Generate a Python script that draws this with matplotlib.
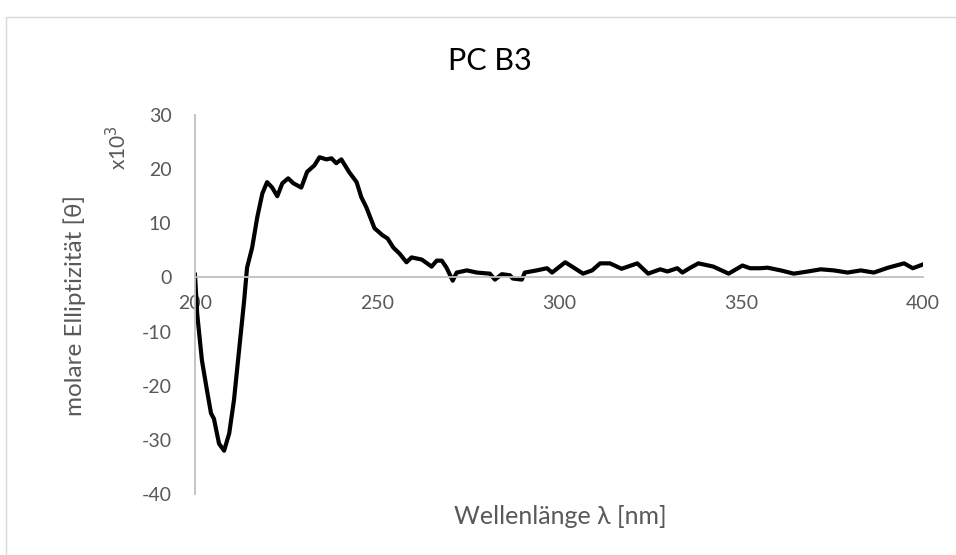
import matplotlib
matplotlib.use("Agg")
import matplotlib.pyplot as plt
from matplotlib.patches import Rectangle

plt.rcParams['font.family'] = ['Lato', 'DejaVu Sans']

wavelength = [200.0, 200.6, 201.9, 203.3, 204.4, 205.2, 206.6, 208.0, 209.4, 210.7,
              212.1, 213.5, 214.3, 215.7, 217.1, 218.5, 219.8, 221.2, 222.6, 224.0,
              225.6, 227.0, 229.2, 230.8, 232.8, 234.2, 236.1, 237.5, 238.8, 240.2,
              242.4, 244.4, 245.7, 247.1, 249.3, 251.5, 252.9, 254.5, 256.2, 258.1,
              259.5, 262.3, 265.0, 266.4, 267.8, 269.1, 270.8, 271.9, 274.7, 277.4,
              281.0, 282.4, 284.3, 286.5, 287.3, 289.8, 290.6, 293.9, 296.7, 298.1,
              301.7, 303.6, 306.6, 309.1, 311.3, 314.0, 317.2, 321.5, 324.5, 327.8,
              329.8, 332.5, 333.9, 336.1, 338.3, 342.4, 346.6, 350.4, 352.5, 355.3,
              357.3, 360.9, 364.5, 368.4, 371.9, 375.5, 379.3, 382.9, 386.5, 390.4,
              394.8, 397.2, 400.0]
ellipticity = [0.5, -6.7, -15.3, -20.9, -25.1, -26.1, -30.7, -32.0, -28.8, -22.7,
               -13.5, -4.3, 1.8, 5.5, 11.1, 15.5, 17.6, 16.6, 15.0, 17.4,
               18.3, 17.4, 16.6, 19.5, 20.7, 22.2, 21.8, 22.0, 21.1, 21.8,
               19.4, 17.6, 14.8, 12.9, 9.1, 7.8, 7.2, 5.5, 4.4, 2.8,
               3.7, 3.3, 2.0, 3.1, 3.1, 1.8, -0.6, 0.9, 1.3, 0.9,
               0.7, -0.4, 0.6, 0.4, -0.2, -0.4, 0.9, 1.3, 1.7, 0.9,
               2.8, 2.0, 0.7, 1.3, 2.6, 2.6, 1.6, 2.6, 0.7, 1.5,
               1.1, 1.7, 0.9, 1.8, 2.6, 2.0, 0.7, 2.2, 1.7, 1.7,
               1.8, 1.3, 0.7, 1.1, 1.5, 1.3, 0.9, 1.3, 0.9, 1.8,
               2.6, 1.7, 2.4]

x_ticks = [200, 250, 300, 350, 400]
y_ticks = [-40, -30, -20, -10, 0, 10, 20, 30]

W, H = 956, 555
fig = plt.figure(figsize=(W / 100, H / 100), dpi=100)

# chart border
fig.patches.append(Rectangle((5.5 / W, -0.1), 1.2, 1 - 16.5 / H + 0.1,
                             transform=fig.transFigure, fill=False,
                             edgecolor='#D9D9D9', linewidth=1.0))

ax = fig.add_axes([195 / W, 1 - 494 / H, (923 - 195) / W, (494 - 115) / H])
ax.plot(wavelength, ellipticity, color='black', linewidth=3.0, solid_joinstyle='round')

ax.set_xlim(200, 400)
ax.set_ylim(-40, 30)
ax.set_xticks(x_ticks)
ax.set_yticks(y_ticks)
ax.set_xticklabels([str(v) for v in x_ticks])
ax.set_yticklabels([str(v) for v in y_ticks])

for s in ['top', 'right']:
    ax.spines[s].set_visible(False)
ax.spines['left'].set_color('#BFBFBF')
ax.spines['left'].set_linewidth(1.3)
ax.spines['bottom'].set_color('#BFBFBF')
ax.spines['bottom'].set_linewidth(1.3)
ax.spines['bottom'].set_position(('data', 0))

ax.tick_params(axis='x', length=0, pad=13, labelsize=14, labelcolor='#595959')
ax.tick_params(axis='y', length=0, pad=17, labelsize=14, labelcolor='#595959')

fig.text(490 / W, 1 - 61 / H, 'PC B3', ha='center', va='center', fontsize=22, color='#000000')
fig.text(118 / W, 1 - 148 / H, 'x10$^3$', rotation=90, ha='center', va='center',
         fontsize=15, color='#595959')
fig.text(75 / W, 1 - 305 / H, 'molare Elliptizität [θ]', rotation=90, ha='center',
         va='center', fontsize=17.5, color='#595959')
fig.text(560 / W, 1 - 517 / H, 'Wellenlänge λ [nm]', ha='center', va='center',
         fontsize=18, color='#595959')

fig.savefig('out.png', dpi=100)
